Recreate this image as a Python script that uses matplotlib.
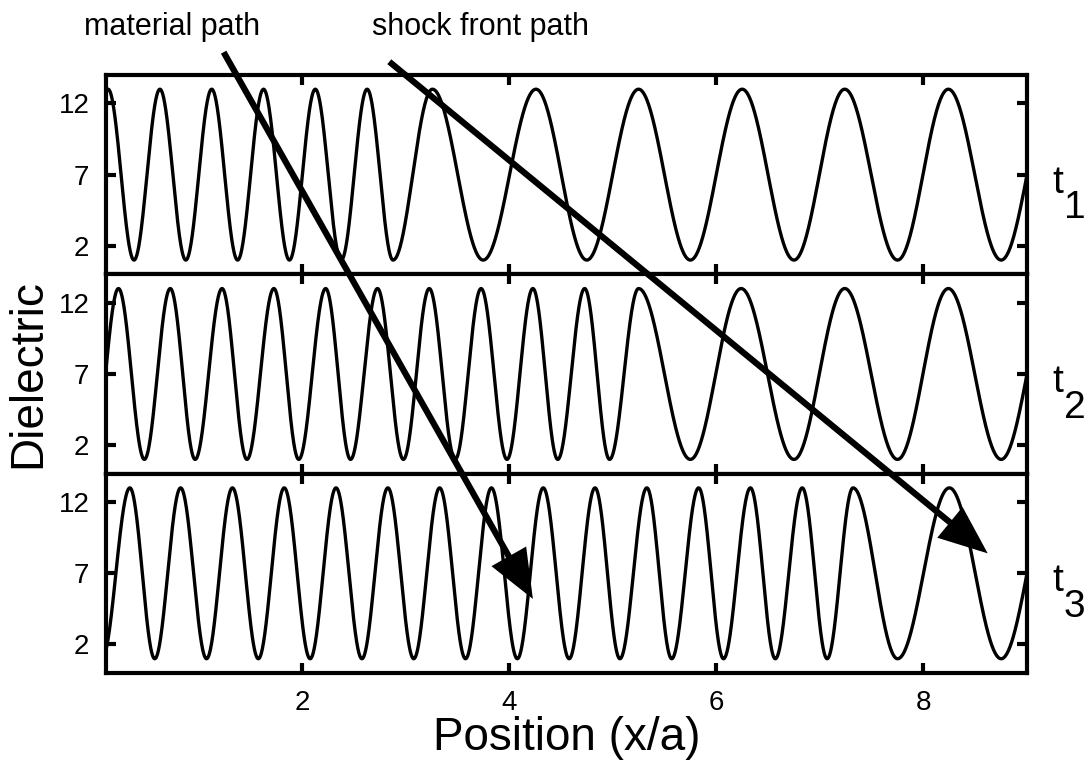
import numpy as np
import matplotlib
matplotlib.use("Agg")
import matplotlib.pyplot as plt
from matplotlib.patches import ConnectionPatch

plt.rcParams["font.family"] = ["Liberation Sans", "DejaVu Sans"]

# dielectric maxima / minima of the layered profile at three times (x/a)
EPS_HIGH = 13.0
EPS_LOW = 1.0

peaks_t1 = [0.13, 0.63, 1.13, 1.63, 2.13, 2.63, 3.26, 4.26, 5.25, 6.25, 7.24, 8.24, 9.25]
troughs_t1 = [-0.12, 0.38, 0.88, 1.38, 1.88, 2.38, 2.88, 3.75, 4.75, 5.75, 6.75,
              7.75, 8.75]

peaks_t2 = [0.23, 0.73, 1.23, 1.73, 2.23, 2.73, 3.23, 3.73, 4.23, 4.73, 5.25,
            6.24, 7.24, 8.24, 9.25]
troughs_t2 = [-0.02, 0.48, 0.97, 1.47, 1.97, 2.47, 2.98, 3.48, 3.98, 4.47, 4.97,
              5.75, 6.75, 7.75, 8.75]

peaks_t3 = [0.34, 0.83, 1.33, 1.83, 2.33, 2.83, 3.33, 3.83, 4.33, 4.83, 5.33,
            5.83, 6.33, 6.83, 7.32, 8.25, 9.25]
troughs_t3 = [0.07, 0.58, 1.08, 1.58, 2.08, 2.58, 3.08, 3.58, 4.08, 4.58, 5.07,
              5.57, 6.07, 6.57, 7.07, 7.75, 8.75]

time_labels = ["1", "2", "3"]
y_ticks = [2, 7, 12]
x_ticks = [2, 4, 6, 8]

# arrow end points (x/a, dielectric) in the first and last panel
material_start = (1.245, 15.6)
material_end = (4.23, 5.2)
shock_start = (2.844, 14.93)
shock_end = (8.62, 8.4)

XMIN, XMAX = 0.11, 9.0


def profile(peaks, troughs, x):
    """Smooth curve through alternating maxima/minima, half-cosine per segment."""
    ex = np.concatenate([peaks, troughs])
    ey = np.concatenate([np.full(len(peaks), EPS_HIGH), np.full(len(troughs), EPS_LOW)])
    order = np.argsort(ex)
    ex, ey = ex[order], ey[order]
    i = np.clip(np.searchsorted(ex, x) - 1, 0, len(ex) - 2)
    frac = (x - ex[i]) / (ex[i + 1] - ex[i])
    return ey[i] + (ey[i + 1] - ey[i]) * (1 - np.cos(np.pi * frac)) / 2


fig = plt.figure(figsize=(10.91, 7.65), dpi=100)
left, width = 0.0972, 0.8442
top, bottom = 0.902, 0.1203
h = (top - bottom) / 3

x = np.linspace(XMIN, XMAX, 4000)
series = [(peaks_t1, troughs_t1), (peaks_t2, troughs_t2), (peaks_t3, troughs_t3)]
axes = []
for k, (pk, tr) in enumerate(series):
    ax = fig.add_axes([left, top - (k + 1) * h, width, h])
    ax.plot(x, profile(pk, tr, x), color="black", lw=2.4)
    ax.set_xlim(XMIN, XMAX)
    ax.set_ylim(0, 14)
    ax.set_yticks(y_ticks)
    ax.set_xticks(x_ticks)
    ax.tick_params(direction="in", top=True, right=True, length=7, width=3,
                   labelsize=20, pad=12)
    if k < 2:
        ax.tick_params(labelbottom=False)
    for sp in ax.spines.values():
        sp.set_linewidth(3)
    ax.text(1.027, 0.41, "t", fontsize=28, ha="left", va="baseline",
            transform=ax.transAxes)
    ax.text(1.040, 0.28, time_labels[k], fontsize=28, ha="left", va="baseline",
            transform=ax.transAxes)
    axes.append(ax)

ax1, ax2, ax3 = axes
ax2.set_ylabel("Dielectric", fontsize=33, labelpad=6)
ax3.set_xlabel("Position (x/a)", fontsize=33, labelpad=0)

for start, end in [(material_start, material_end), (shock_start, shock_end)]:
    arrow = ConnectionPatch(xyA=start, coordsA=ax1.transData,
                            xyB=end, coordsB=ax3.transData,
                            arrowstyle="-|>,head_length=1.35,head_width=0.55",
                            mutation_scale=20, lw=4.5, color="black",
                            joinstyle="miter", capstyle="butt",
                            shrinkA=0, shrinkB=0, zorder=10)
    fig.add_artist(arrow)

fig.text(0.158, 0.954, "material path", fontsize=22, ha="center", va="baseline")
fig.text(0.44, 0.954, "shock front path", fontsize=22, ha="center", va="baseline")

fig.savefig("out.png", dpi=100)
